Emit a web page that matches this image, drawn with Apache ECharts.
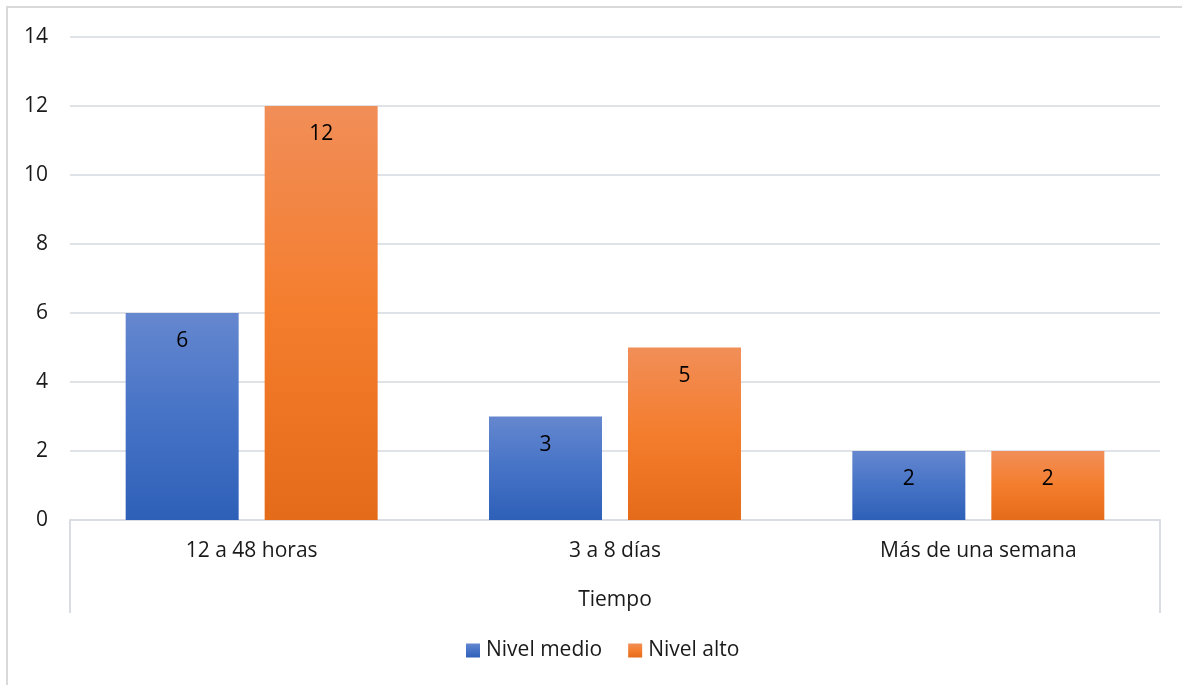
<!DOCTYPE html>
<html>
<head>
<meta charset="utf-8">
<script src="https://cdn.jsdelivr.net/npm/echarts@6/dist/echarts.min.js"></script>
<style>
  html, body { margin: 0; padding: 0; background: #ffffff; }
  #chart { width: 1182px; height: 685px; }
</style>
</head>
<body>
<div id="chart"></div>
<script>
// Tiempo de respuesta por nivel
const categories = ['12 a 48 horas', '3 a 8 días', 'Más de una semana'];
const nivelMedio = [6, 3, 2];
const nivelAlto = [12, 5, 2];
const seriesNames = ['Nivel medio', 'Nivel alto'];
const axisTitle = 'Tiempo';

const FONT = '"Open Sans", Lato, sans-serif';
const FS = 21;
const GRID = { left: 70, right: 22, top: 37, bottom: 165 };

function grad(top, mid, bottom) {
  return new echarts.graphic.LinearGradient(0, 0, 0, 1, [
    { offset: 0, color: top },
    { offset: 0.5, color: mid },
    { offset: 1, color: bottom }
  ]);
}

const chart = echarts.init(document.getElementById('chart'), null, { renderer: 'canvas' });

const labelStyle = {
  show: true,
  position: 'insideTop',
  distance: 18,
  color: '#000000',
  fontSize: FS,
  fontFamily: FONT
};

chart.setOption({
  backgroundColor: '#ffffff',
  animation: false,
  textStyle: { fontFamily: FONT },
  grid: GRID,
  legend: {
    bottom: 19,
    left: 461,
    itemWidth: 14,
    itemHeight: 14,
    itemGap: 26,
    icon: 'rect',
    textStyle: { fontSize: FS, color: '#1a1a1a', fontFamily: FONT, padding: [0, 0, 0, 1] },
    data: seriesNames
  },
  xAxis: {
    type: 'category',
    data: categories,
    axisLine: { show: true, lineStyle: { color: '#d9dde3', width: 2 } },
    axisTick: { show: false },
    axisLabel: { fontSize: FS, color: '#1a1a1a', margin: 21, fontFamily: FONT },
    name: axisTitle,
    nameLocation: 'middle',
    nameGap: 70,
    nameTextStyle: { fontSize: FS, color: '#1a1a1a', fontFamily: FONT }
  },
  yAxis: {
    type: 'value',
    min: 0,
    max: 14,
    interval: 2,
    axisLine: { show: false },
    axisTick: { show: false },
    axisLabel: { fontSize: FS, color: '#1a1a1a', margin: 22, fontFamily: FONT },
    splitLine: { lineStyle: { color: '#dfe2e7', width: 2 } }
  },
  series: [
    {
      name: seriesNames[0],
      type: 'bar',
      data: nivelMedio,
      barWidth: 113,
      barGap: '23%',
      itemStyle: { color: grad('#6587cf', '#4673c6', '#2e60b8') },
      label: labelStyle
    },
    {
      name: seriesNames[1],
      type: 'bar',
      data: nivelAlto,
      barWidth: 113,
      barGap: '23%',
      itemStyle: { color: grad('#f18e58', '#f47d2d', '#e46b1a') },
      label: labelStyle
    }
  ]
});

// Chart frame and the side rules of the category axis band
function drawFrame() {
  const w = chart.getWidth();
  const h = chart.getHeight();
  const x0 = GRID.left;
  const x1 = w - GRID.right;
  const yAxisLine = h - GRID.bottom;
  const lineStyle = { stroke: '#d9dde3', lineWidth: 2 };
  chart.setOption({
    graphic: [
      { type: 'rect', shape: { x: 7, y: 7, width: w + 20, height: h + 20 },
        style: { fill: 'none', stroke: '#d9d9d9', lineWidth: 2 }, silent: true },
      { type: 'line', shape: { x1: x0, y1: yAxisLine, x2: x0, y2: yAxisLine + 93 }, style: lineStyle, silent: true },
      { type: 'line', shape: { x1: x1, y1: yAxisLine, x2: x1, y2: yAxisLine + 93 }, style: lineStyle, silent: true }
    ]
  });
}
drawFrame();
</script>
</body>
</html>
